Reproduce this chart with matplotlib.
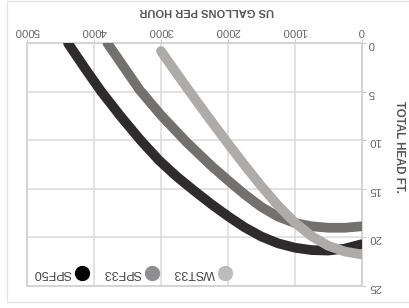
import matplotlib.pyplot as plt
from matplotlib.patches import Rectangle

plt.rcParams['font.family'] = ['Liberation Sans', 'DejaVu Sans']

series_names = ["SPF50", "SPF33", "WST33"]

spf50_gph = [4390, 4140, 3890, 3600, 3303, 3030, 2760, 2501, 2250, 2000, 1750, 1500,
             1250, 1000, 750, 500, 250, 0]
spf50_head = [0, 2.55, 5.0, 7.55, 10.0, 12.05, 13.75, 15.2, 16.55, 17.8, 18.95, 19.9,
              20.6, 21.05, 21.3, 21.35, 21.15, 20.7]

spf33_gph = [3800, 3560, 3320, 3000, 2615, 2250, 2000, 1750, 1500, 1250, 1000, 750, 500, 250, 0]
spf33_head = [0, 2.4, 4.8, 7.4, 10.2, 12.6, 14.1, 15.55, 16.85, 17.85, 18.5, 18.85, 19.0, 19.0, 18.85]

wst33_gph = [3000, 2750, 2500, 2250, 2000, 1750, 1500, 1250, 1000, 750, 500, 250, 0]
wst33_head = [0.8, 3.25, 5.65, 8.0, 10.3, 12.55, 14.7, 16.7, 18.45, 19.85, 20.85, 21.45, 21.75]

x_ticks = [0, 1000, 2000, 3000, 4000, 5000]
y_ticks = [0, 5, 10, 15, 20, 25]

line_colors = ["#2e2b2c", "#737070", "#aeabab"]
dot_colors = ["#000000", "#8f8e90", "#bdbcbc"]

fig = plt.figure(figsize=(4.09, 3.08), dpi=100)
fig.patches.append(Rectangle((7 / 409, 0.0205), 1.1, 0.975, transform=fig.transFigure,
                             fill=False, edgecolor="#e4e4e4", lw=1))

ax = fig.add_axes([0.0667, 0.0714, 0.8172, 0.788])

curves = [(spf50_gph, spf50_head), (spf33_gph, spf33_head), (wst33_gph, wst33_head)]
for (xs, ys), color in zip(curves, line_colors):
    ax.plot(xs, ys, color=color, lw=7.0, solid_capstyle="round",
            solid_joinstyle="round", zorder=3)

# whole chart is shown rotated by 180 degrees
ax.set_xlim(5000, 0)
ax.set_ylim(25, 0)
ax.xaxis.tick_top()
ax.yaxis.tick_right()
ax.set_xticks(x_ticks)
ax.set_yticks(y_ticks)
ax.tick_params(axis="x", labelrotation=180, length=3, pad=2, color="#cccccc",
               labelcolor="#666666", labelsize=8.2)
ax.tick_params(axis="y", labelrotation=180, length=3, pad=2, color="#cccccc",
               labelcolor="#666666", labelsize=8.2)
ax.grid(color="#dddddd", lw=1.2)
for spine in ax.spines.values():
    spine.set_color("#d4d4d4")
    spine.set_linewidth(1.4)

fig.text(0.505, 0.965, "US GALLONS PER HOUR", rotation=180, ha="center", va="center",
         fontsize=8, fontweight="bold", color="#555555")
fig.text(0.975, 0.523, "TOTAL HEAD FT.", rotation=270, ha="center", va="center",
         fontsize=8.3, fontweight="bold", color="#555555")

# legend drawn by hand, upside down
legend_x = [0.163, 0.372, 0.592]
for name, color, lx in zip(series_names, dot_colors, legend_x):
    ax.plot([lx], [0.054], "o", ms=10, color=color, transform=ax.transAxes, zorder=4)
    ax.text(lx - 0.03, 0.054, name, rotation=180, ha="right", va="center",
            fontsize=9, color="#444444", transform=ax.transAxes, zorder=4)

fig.savefig("out.png", dpi=100, facecolor="white")
